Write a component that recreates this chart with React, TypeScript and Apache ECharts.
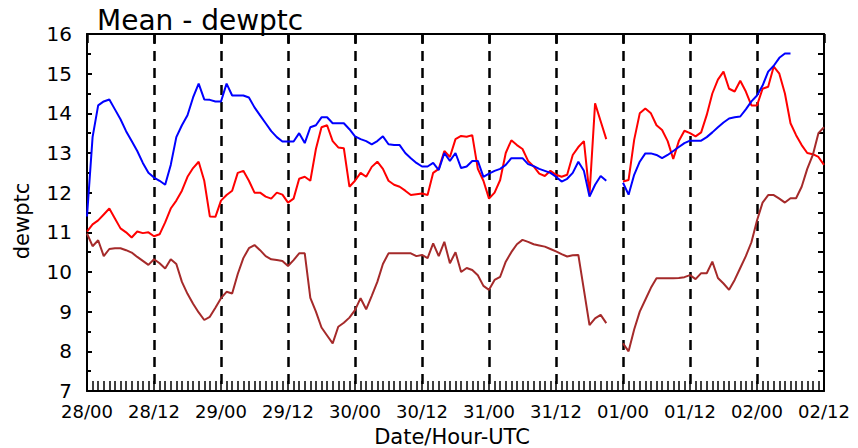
import React, { useEffect, useRef } from "react";
import * as echarts from "echarts";

// Day labels of the time axis (hourly data, 28/00 .. 02/12)
const days = ["28", "29", "30", "31", "01", "02"];
const hoursCount = 133;
const categories: string[] = [];
for (let i = 0; i < hoursCount; i++) {
  const d = days[Math.floor(i / 24)];
  const h = String(i % 24).padStart(2, "0");
  categories.push(d + "/" + h);
}

const yTicks = { min: 7, max: 16, step: 1 };

// Blue series (hourly)
const blueValues: (number | null)[] = [
  11.4, 13.4, 14.2, 14.3, 14.35, 14.1, 13.85, 13.55, 13.3, 13.05, 12.75, 12.5,
  12.38, 12.3, 12.2, 12.7, 13.4, 13.7, 13.95, 14.4, 14.75, 14.35, 14.34, 14.3,
  14.3, 14.75, 14.45, 14.45, 14.45, 14.4, 14.15, 13.95, 13.75, 13.55, 13.4, 13.29,
  13.29, 13.29, 13.5, 13.25, 13.65, 13.7, 13.9, 13.9, 13.75, 13.75, 13.75, 13.6,
  13.42, 13.35, 13.3, 13.22, 13.3, 13.42, 13.22, 13.2, 13.2, 13.0, 12.87, 12.75,
  12.66, 12.66, 12.75, 12.57, 13.0, 12.8, 13.0, 12.62, 12.66, 12.8, 12.8, 12.4,
  12.48, 12.55, 12.6, 12.7, 12.87, 12.87, 12.87, 12.72, 12.67, 12.6, 12.55, 12.5,
  12.4, 12.28, 12.35, 12.5, 12.78, 12.55, 11.9, 12.2, 12.42, 12.3, null, null,
  12.25, 11.95, 12.45, 12.78, 12.99, 12.99, 12.95, 12.87, 12.95, 13.05, 13.15, 13.25,
  13.31, 13.31, 13.31, 13.4, 13.52, 13.65, 13.77, 13.87, 13.9, 13.92, 14.1, 14.3,
  14.45, 14.7, 15.05, 15.2, 15.4, 15.51, 15.51, null, null, null, null, null,
  null,
];

// Red series (hourly)
const redValues: (number | null)[] = [
  11.02, 11.2, 11.3, 11.45, 11.6, 11.35, 11.1, 11.0, 10.87, 11.02, 10.98, 11.0,
  10.9, 10.95, 11.25, 11.6, 11.8, 12.05, 12.4, 12.62, 12.78, 12.3, 11.4, 11.39,
  11.8, 11.94, 12.05, 12.5, 12.55, 12.3, 12.0, 12.0, 11.9, 11.85, 12.0, 11.95,
  11.75, 11.85, 12.35, 12.4, 12.3, 13.1, 13.65, 13.7, 13.3, 13.14, 13.12, 12.15,
  12.3, 12.5, 12.4, 12.65, 12.78, 12.6, 12.3, 12.2, 12.15, 12.05, 11.94, 11.96,
  11.98, 11.94, 12.5, 12.6, 13.05, 12.9, 13.35, 13.43, 13.41, 13.45, 12.6, 12.3,
  11.85, 12.0, 12.32, 13.0, 13.32, 13.2, 13.1, 12.8, 12.66, 12.48, 12.42, 12.55,
  12.45, 12.4, 12.45, 12.95, 13.15, 13.3, 11.95, 14.25, 13.8, 13.35, null, null,
  12.28, 12.32, 13.33, 14.0, 14.12, 14.0, 13.7, 13.58, 13.3, 12.85, 13.3, 13.56,
  13.5, 13.42, 13.52, 13.96, 14.5, 14.85, 15.05, 14.62, 14.55, 14.82, 14.55, 14.2,
  14.2, 14.62, 14.67, 15.18, 15.0, 14.5, 13.75, 13.45, 13.2, 13.0, 12.97, 12.9,
  12.7,
];

// Brown series (hourly)
const brownValues: (number | null)[] = [
  10.97, 10.65, 10.8, 10.4, 10.58, 10.6, 10.6, 10.55, 10.49, 10.38, 10.28, 10.18,
  10.32, 10.22, 10.09, 10.32, 10.2, 9.75, 9.45, 9.2, 8.98, 8.79, 8.87, 9.1,
  9.34, 9.5, 9.46, 9.95, 10.35, 10.6, 10.68, 10.55, 10.4, 10.32, 10.3, 10.28,
  10.15, 10.3, 10.47, 10.47, 9.35, 9.0, 8.6, 8.4, 8.2, 8.62, 8.72, 8.85,
  9.04, 9.34, 9.06, 9.4, 9.75, 10.2, 10.47, 10.47, 10.47, 10.47, 10.47, 10.4,
  10.43, 10.35, 10.72, 10.4, 10.76, 10.22, 10.5, 10.0, 10.1, 10.05, 9.92, 9.65,
  9.55, 9.8, 9.88, 10.26, 10.5, 10.7, 10.81, 10.76, 10.7, 10.67, 10.64, 10.58,
  10.52, 10.45, 10.39, 10.42, 10.43, 9.55, 8.66, 8.83, 8.92, 8.71, null, null,
  8.2, 8.0, 8.55, 9.0, 9.3, 9.6, 9.84, 9.84, 9.84, 9.84, 9.85, 9.87,
  9.92, 9.82, 9.97, 9.97, 10.26, 9.85, 9.71, 9.55, 9.8, 10.1, 10.4, 10.75,
  11.3, 11.75, 11.94, 11.94, 11.85, 11.75, 11.86, 11.86, 12.15, 12.6, 12.95, 13.5,
  13.65,
];

const FONT = "DejaVu Sans";

export default function App() {
  const ref = useRef<HTMLDivElement>(null);
  useEffect(() => {
    document.body.style.margin = "0";
    if (!ref.current) return;
    const chart = echarts.init(ref.current, null, { renderer: "svg" });
    const major = (i: number) => i % 12 === 0;
    const interior = (i: number) => i % 12 === 0 && i > 0 && i < hoursCount - 1;
    chart.setOption({
      animation: false,
      backgroundColor: "#ffffff",
      grid: { left: 87, right: 34, top: 34, bottom: 57, containLabel: false },
      graphic: [
        {
          type: "text",
          left: 97,
          top: 6,
          style: { text: "Mean - dewptc", fontSize: 28, fontFamily: FONT, fill: "#000" },
        },
        {
          type: "text",
          x: 22,
          y: 221,
          rotation: Math.PI / 2,
          style: {
            text: "dewptc",
            fontSize: 21,
            fontFamily: FONT,
            fill: "#000",
            align: "center",
            verticalAlign: "middle",
          },
        },
        {
          type: "text",
          x: 452,
          y: 437,
          style: {
            text: "Date/Hour-UTC",
            fontSize: 21,
            fontFamily: FONT,
            fill: "#000",
            align: "center",
            verticalAlign: "middle",
          },
        },
      ],
      xAxis: [
        {
          type: "category",
          data: categories,
          boundaryGap: false,
          position: "bottom",
          axisLine: { show: true, lineStyle: { color: "#000", width: 2 } },
          axisTick: { show: true, inside: true, interval: 0, length: 10, lineStyle: { color: "#000", width: 1.5 } },
          axisLabel: { interval: major, color: "#000", fontSize: 18, fontFamily: FONT, margin: 11 },
          splitLine: { show: true, interval: interior, lineStyle: { color: "#000", width: 2.5, type: [10, 7] } },
        },
        {
          type: "category",
          data: categories,
          boundaryGap: false,
          position: "top",
          axisLine: { show: true, lineStyle: { color: "#000", width: 2 } },
          axisTick: { show: true, inside: true, interval: major, length: 9, lineStyle: { color: "#000", width: 2.5 } },
          axisLabel: { show: false },
          splitLine: { show: false },
        },
      ],
      yAxis: [
        {
          type: "value",
          min: yTicks.min,
          max: yTicks.max,
          interval: yTicks.step,
          position: "left",
          axisLine: { show: true, lineStyle: { color: "#000", width: 2 } },
          axisTick: { show: true, inside: true, length: 5, lineStyle: { color: "#000", width: 2 } },
          minorTick: { show: true, splitNumber: 2, length: 4, lineStyle: { color: "#000", width: 2 } },
          axisLabel: { color: "#000", fontSize: 20, fontFamily: FONT, margin: 15 },
          splitLine: { show: false },
        },
        {
          type: "value",
          min: yTicks.min,
          max: yTicks.max,
          interval: yTicks.step,
          position: "right",
          axisLine: { show: true, lineStyle: { color: "#000", width: 2 } },
          axisTick: { show: true, inside: true, length: 6, lineStyle: { color: "#000", width: 2 } },
          minorTick: { show: true, splitNumber: 2, length: 6, lineStyle: { color: "#000", width: 2 } },
          axisLabel: { show: false },
          splitLine: { show: false },
        },
      ],
      series: [
        {
          name: "red",
          type: "line",
          data: redValues,
          xAxisIndex: 0,
          yAxisIndex: 0,
          showSymbol: false,
          connectNulls: false,
          lineStyle: { color: "#ff0000", width: 2 },
          itemStyle: { color: "#ff0000" },
        },
        {
          name: "blue",
          type: "line",
          data: blueValues,
          xAxisIndex: 0,
          yAxisIndex: 0,
          showSymbol: false,
          connectNulls: false,
          lineStyle: { color: "#0000ff", width: 2 },
          itemStyle: { color: "#0000ff" },
        },
        {
          name: "brown",
          type: "line",
          data: brownValues,
          xAxisIndex: 0,
          yAxisIndex: 0,
          showSymbol: false,
          connectNulls: false,
          lineStyle: { color: "#a52a2a", width: 2 },
          itemStyle: { color: "#a52a2a" },
        },
      ],
    });
    return () => chart.dispose();
  }, []);
  return <div ref={ref} style={{ width: 858, height: 448 }} />;
}
